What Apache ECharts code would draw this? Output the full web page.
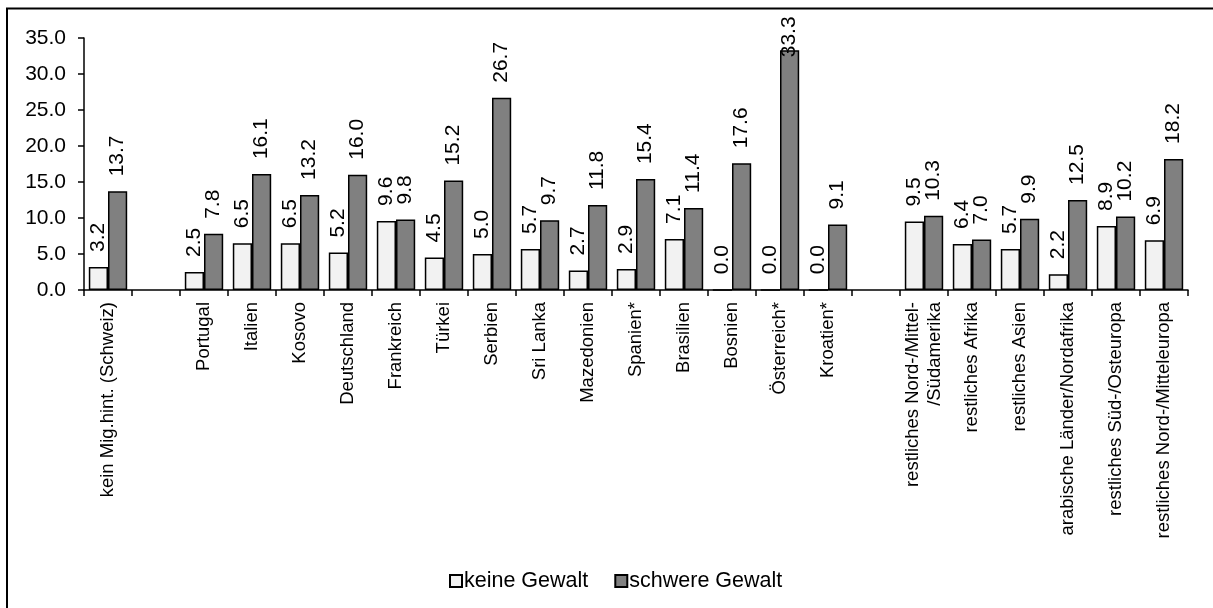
<!DOCTYPE html>
<html>
<head>
<meta charset="utf-8">
<script src="https://cdn.jsdelivr.net/npm/echarts@6/dist/echarts.min.js"></script>
<style>
  html, body { margin: 0; padding: 0; background: #fff; }
  #chart { width: 1213px; height: 608px; }
</style>
</head>
<body>
<div id="chart"></div>
<script>
// Herkunftsgruppen (leere Einträge trennen die Gruppen)
const categories = [
  'kein Mig.hint. (Schweiz)', '',
  'Portugal', 'Italien', 'Kosovo', 'Deutschland', 'Frankreich', 'Türkei',
  'Serbien', 'Sri Lanka', 'Mazedonien', 'Spanien*', 'Brasilien', 'Bosnien',
  'Österreich*', 'Kroatien*', '',
  'restliches Nord-/Mittel-\n/Südamerika', 'restliches Afrika', 'restliches Asien',
  'arabische Länder/Nordafrika', 'restliches Süd-/Osteuropa', 'restliches Nord-/Mitteleuropa'
];

const keineGewalt = [
  3.2, null,
  2.5, 6.5, 6.5, 5.2, 9.6, 4.5, 5.0, 5.7, 2.7, 2.9, 7.1, 0.0, 0.0, 0.0, null,
  9.5, 6.4, 5.7, 2.2, 8.9, 6.9
];

const schwereGewalt = [
  13.7, null,
  7.8, 16.1, 13.2, 16.0, 9.8, 15.2, 26.7, 9.7, 11.8, 15.4, 11.4, 17.6, 33.3, 9.1, null,
  10.3, 7.0, 9.9, 12.5, 10.2, 18.2
];

const yTicks = [0, 5, 10, 15, 20, 25, 30, 35];

const FONT = '"Liberation Sans", Arial, sans-serif';
const Y_MAX = yTicks[yTicks.length - 1];

// Labels of bars reaching the top of the plot are pulled back inside it
function toItems(values) {
  return values.map(v => {
    if (v === null) return '-';
    if (v > Y_MAX - 3) return { value: v, label: { distance: -7 } };
    return v;
  });
}

const valueLabel = {
  show: true,
  position: 'top',
  rotate: 90,
  align: 'left',
  verticalAlign: 'middle',
  distance: 15,
  fontFamily: FONT,
  fontSize: 21,
  color: '#000',
  formatter: p => Number(p.value).toFixed(1)
};

const chart = echarts.init(document.getElementById('chart'), null, { renderer: 'canvas' });

chart.setOption({
  backgroundColor: '#fff',
  animation: false,
  graphic: [{
    type: 'rect',
    shape: { x: 7, y: 8.5, width: 1240, height: 640 },
    style: { fill: 'none', stroke: '#000', lineWidth: 2 },
    silent: true
  }],
  grid: { left: 84, right: 25, top: 38, bottom: 318, containLabel: false },
  legend: {
    data: ['keine Gewalt', 'schwere Gewalt'],
    left: 444,
    top: 565,
    itemWidth: 12,
    itemHeight: 12,
    itemGap: 26,
    icon: 'rect',
    textStyle: { fontFamily: FONT, fontSize: 21.5, color: '#000', padding: [0, 0, 0, -3] }
  },
  xAxis: {
    type: 'category',
    data: categories,
    axisLine: { show: true, lineStyle: { color: '#000', width: 1.5 } },
    axisTick: { show: true, length: 6, lineStyle: { color: '#000', width: 1.5 } },
    axisLabel: {
      interval: 0,
      rotate: 90,
      margin: 12,
      fontFamily: FONT,
      fontSize: 18.5,
      color: '#000',
      lineHeight: 22
    }
  },
  yAxis: {
    type: 'value',
    min: 0,
    max: Y_MAX,
    interval: 5,
    splitLine: { show: false },
    axisLine: { show: true, lineStyle: { color: '#000', width: 1.5 } },
    axisTick: { show: true, length: 6, lineStyle: { color: '#000', width: 1.5 } },
    axisLabel: {
      margin: 18,
      fontFamily: FONT,
      fontSize: 21,
      color: '#000',
      formatter: v => v.toFixed(1)
    }
  },
  series: [
    {
      name: 'keine Gewalt',
      type: 'bar',
      data: toItems(keineGewalt),
      barGap: '0%',
      barCategoryGap: '20%',
      itemStyle: { color: '#f2f2f2', borderColor: '#000', borderWidth: 1.5 },
      label: valueLabel
    },
    {
      name: 'schwere Gewalt',
      type: 'bar',
      data: toItems(schwereGewalt),
      barGap: '0%',
      barCategoryGap: '20%',
      itemStyle: { color: '#808080', borderColor: '#000', borderWidth: 1.5 },
      label: valueLabel
    }
  ]
});
</script>
</body>
</html>
